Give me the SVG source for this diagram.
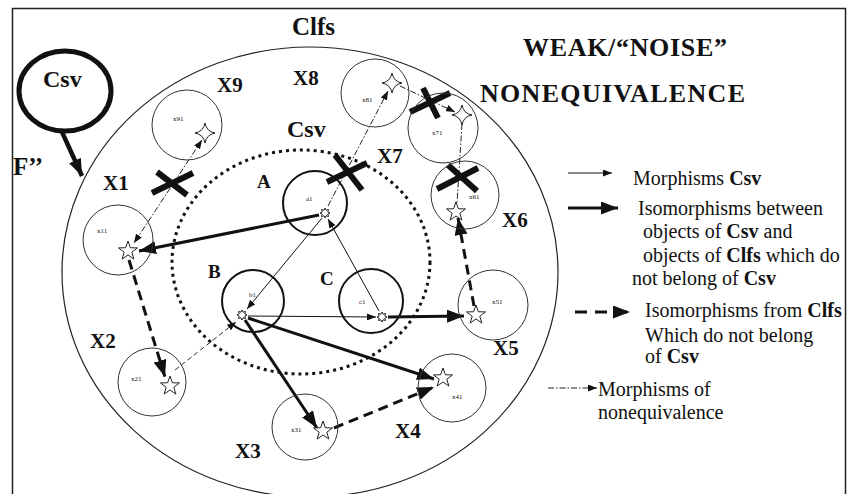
<svg xmlns="http://www.w3.org/2000/svg" width="848" height="494" viewBox="0 0 848 494" font-family="'Liberation Serif', 'Times New Roman', 'DejaVu Serif', serif">
<style>
text{fill:#111}
.lbl{font-weight:bold;font-size:21px}
.lg{font-size:20px}
.b{font-weight:bold}
.tiny{font-size:7px}
.xc{fill:none;stroke:#333;stroke-width:1}
.oc{fill:none;stroke:#111;stroke-width:2}
.star{fill:#fff;stroke:#222;stroke-width:1}
.thin{stroke:#111;stroke-width:1;fill:none}
.thick{stroke:#111;stroke-width:3;fill:none}
.tdash{stroke:#111;stroke-width:3;fill:none;stroke-dasharray:10 6}
.dd{stroke:#222;stroke-width:1;fill:none;stroke-dasharray:6 2 1.5 2}
.dsh{stroke:#333;stroke-width:1;fill:none;stroke-dasharray:5 3}
.cross{stroke:#111;stroke-width:6;stroke-linecap:butt}
</style>
<defs>
<marker id="ah" markerUnits="userSpaceOnUse" markerWidth="9" markerHeight="7" refX="9" refY="3.5" orient="auto"><path d="M0,0 L9,3.5 L0,7 Z" fill="#111"/></marker>
<marker id="ahs" markerUnits="userSpaceOnUse" markerWidth="9" markerHeight="7" refX="0" refY="3.5" orient="auto"><path d="M9,0 L0,3.5 L9,7 Z" fill="#111"/></marker>
<marker id="AH" markerUnits="userSpaceOnUse" markerWidth="17" markerHeight="13" refX="17" refY="6.5" orient="auto"><path d="M0,0 L17,6.5 L0,13 Z" fill="#111"/></marker>
<path id="s5" d="M0,-10 L2.35,-3.24 L9.51,-3.09 L3.8,1.24 L5.88,8.09 L0,4 L-5.88,8.09 L-3.8,1.24 L-9.51,-3.09 L-2.35,-3.24 Z"/>
<path id="s4" d="M0,-10 Q1.5,-1.5 10,0 Q1.5,1.5 0,10 Q-1.5,1.5 -10,0 Q-1.5,-1.5 0,-10 Z"/>
<path id="s8" d="M5,0 L2.77,1.15 L3.54,3.54 L1.15,2.77 L0,5 L-1.15,2.77 L-3.54,3.54 L-2.77,1.15 L-5,0 L-2.77,-1.15 L-3.54,-3.54 L-1.15,-2.77 L0,-5 L1.15,-2.77 L3.54,-3.54 L2.77,-1.15 Z"/>
</defs>
<rect width="848" height="494" fill="#fff"/>
<path d="M12.5,494 V8.5 H845.5 V494" fill="none" stroke="#222" stroke-width="1.5"/>

<g id="Clfs">
<ellipse cx="310" cy="272" rx="248" ry="225" fill="none" stroke="#222" stroke-width="1.2"/>
<text x="292" y="35" font-size="25" font-weight="bold">Clfs</text>
</g>
<g id="Csv">
<ellipse cx="301" cy="262" rx="129" ry="112" fill="none" stroke="#111" stroke-width="3" stroke-dasharray="3 4"/>
<text x="287" y="137" font-size="24" font-weight="bold">Csv</text>
</g>
<g id="CsvOuter">
<ellipse cx="65" cy="91" rx="46" ry="40" fill="none" stroke="#111" stroke-width="5"/>
<text x="43" y="87" font-size="24" font-weight="bold">Csv</text>
<text x="13" y="175" font-size="25" font-weight="bold">F’’</text>
</g>
<g id="title">
<text x="523" y="56" font-size="26" font-weight="bold" textLength="204">WEAK/“NOISE”</text>
<text x="480" y="102" font-size="26" font-weight="bold" textLength="265">NONEQUIVALENCE</text>
</g>

<g id="connectors">
<line class="thin" x1="322" y1="218" x2="247" y2="309" marker-end="url(#ah)"/>
<line class="thin" x1="248" y1="316" x2="376" y2="317" marker-end="url(#ah)"/>
<line class="thin" x1="379" y1="311" x2="328" y2="219" marker-end="url(#ah)"/>
<line class="thick" x1="319" y1="215" x2="139" y2="251" marker-end="url(#AH)"/>
<line class="thick" x1="388" y1="317" x2="464" y2="316" marker-end="url(#AH)"/>
<line class="thick" x1="248" y1="318" x2="434" y2="379" marker-end="url(#AH)"/>
<line class="thick" x1="245" y1="320" x2="317" y2="428" marker-end="url(#AH)"/>
<line class="tdash" x1="334" y1="428" x2="434" y2="387" marker-end="url(#AH)"/>
<line class="tdash" x1="129" y1="260" x2="165" y2="377" marker-end="url(#AH)"/>
<line class="tdash" x1="474" y1="306" x2="458" y2="218" marker-end="url(#AH)"/>
<line class="dsh" x1="175" y1="370" x2="236" y2="322" marker-end="url(#ah)"/>
<line class="dd" x1="202" y1="140" x2="134" y2="243" marker-start="url(#ahs)" marker-end="url(#ah)"/>
<line class="dd" x1="328" y1="206" x2="388" y2="91" marker-end="url(#ah)"/>
<line class="dd" x1="400" y1="86" x2="455" y2="112" marker-end="url(#ah)"/>
<line class="dd" x1="462" y1="124" x2="457" y2="203"/>
<line class="cross" x1="152" y1="193" x2="193" y2="173"/>
<line class="cross" x1="157" y1="172" x2="187" y2="195"/>
<line class="cross" x1="327" y1="182" x2="367" y2="163"/>
<line class="cross" x1="335" y1="155" x2="362" y2="190"/>
<line class="cross" x1="410" y1="112" x2="450" y2="93"/>
<line class="cross" x1="423" y1="88" x2="438" y2="118"/>
<line class="cross" x1="437" y1="189" x2="478" y2="168"/>
<line class="cross" x1="448" y1="165" x2="477" y2="191"/>
</g>

<g id="A">
<circle class="oc" cx="315" cy="203" r="32"/>
<text class="tiny" x="306" y="201">a1</text>
<use href="#s8" class="star" transform="translate(325,213)"/>
<text x="257" y="188" font-size="19" font-weight="bold">A</text>
</g>
<g id="B">
<circle class="oc" cx="253" cy="301" r="31"/>
<text class="tiny" x="249" y="297">b1</text>
<use href="#s8" class="star" transform="translate(242,315)"/>
<text x="208" y="278" font-size="19" font-weight="bold">B</text>
</g>
<g id="C">
<circle class="oc" cx="371" cy="301" r="32"/>
<text class="tiny" x="359" y="304">c1</text>
<use href="#s8" class="star" transform="translate(382,317)"/>
<text x="320" y="285" font-size="19" font-weight="bold">C</text>
</g>

<g id="X1">
<circle class="xc" cx="118" cy="240" r="35"/>
<text class="tiny" x="97" y="233">x11</text>
<use href="#s5" class="star" transform="translate(128,251)"/>
<text class="lbl" x="103" y="190">X1</text>
</g>
<g id="X2">
<circle class="xc" cx="152" cy="382" r="34"/>
<text class="tiny" x="131" y="381">x21</text>
<use href="#s5" class="star" transform="translate(170,386)"/>
<text class="lbl" x="90" y="348">X2</text>
</g>
<g id="X3">
<circle class="xc" cx="305" cy="427" r="33"/>
<text class="tiny" x="291" y="432">x31</text>
<use href="#s5" class="star" transform="translate(323,431)"/>
<text class="lbl" x="235" y="458">X3</text>
</g>
<g id="X4">
<circle class="xc" cx="452" cy="388" r="34"/>
<text class="tiny" x="452" y="399">x41</text>
<use href="#s5" class="star" transform="translate(443,378)"/>
<text class="lbl" x="395" y="438">X4</text>
</g>
<g id="X5">
<circle class="xc" cx="493" cy="305" r="35"/>
<text class="tiny" x="492" y="304">x51</text>
<use href="#s5" class="star" transform="translate(476,315)"/>
<text class="lbl" x="493" y="355">X5</text>
</g>
<g id="X6">
<circle class="xc" cx="465" cy="195" r="34"/>
<text class="tiny" x="469" y="199">x61</text>
<use href="#s5" class="star" transform="translate(456,212)"/>
<text class="lbl" x="502" y="227">X6</text>
</g>
<g id="X7">
<circle class="xc" cx="443" cy="128" r="35"/>
<text class="tiny" x="432" y="135">x71</text>
<use href="#s4" class="star" transform="translate(462,115)"/>
<text class="lbl" x="377" y="163">X7</text>
</g>
<g id="X8">
<circle class="xc" cx="375" cy="93" r="34"/>
<text class="tiny" x="362" y="102">x81</text>
<use href="#s4" class="star" transform="translate(392,83)"/>
<text class="lbl" x="293" y="85">X8</text>
</g>
<g id="X9">
<circle class="xc" cx="187" cy="125" r="35"/>
<text class="tiny" x="173" y="121">x91</text>
<use href="#s4" class="star" transform="translate(205,133)"/>
<text class="lbl" x="217" y="92">X9</text>
</g>

<g id="CsvArrow">
<line x1="62" y1="132" x2="82" y2="176" stroke="#111" stroke-width="4.5" marker-end="url(#AH)"/>
</g>

<g id="legend">
<line class="thin" x1="568" y1="173" x2="612" y2="173" marker-end="url(#ah)"/>
<text class="lg" x="633" y="185">Morphisms <tspan class="b">Csv</tspan></text>
<line class="thick" x1="568" y1="208" x2="618" y2="208" marker-end="url(#AH)"/>
<text class="lg" x="638" y="215">Isomorphisms between</text>
<text class="lg" x="643" y="238">objects of <tspan class="b">Csv</tspan> and</text>
<text class="lg" x="643" y="262">objects of <tspan class="b">Clfs</tspan> which do</text>
<text class="lg" x="632" y="285">not belong of  <tspan class="b">Csv</tspan></text>
<line x1="575" y1="312" x2="630" y2="312" stroke="#111" stroke-width="3" stroke-dasharray="12 8" marker-end="url(#AH)"/>
<text class="lg" x="645" y="317">Isomorphisms from <tspan class="b">Clfs</tspan></text>
<text class="lg" x="645" y="342">Which do not belong</text>
<text class="lg" x="645" y="363">of <tspan class="b">Csv</tspan></text>
<line class="dd" x1="548" y1="388" x2="597" y2="388" marker-end="url(#ah)"/>
<text class="lg" x="598" y="396">Morphisms of</text>
<text class="lg" x="598" y="419">nonequivalence</text>
</g>
</svg>
